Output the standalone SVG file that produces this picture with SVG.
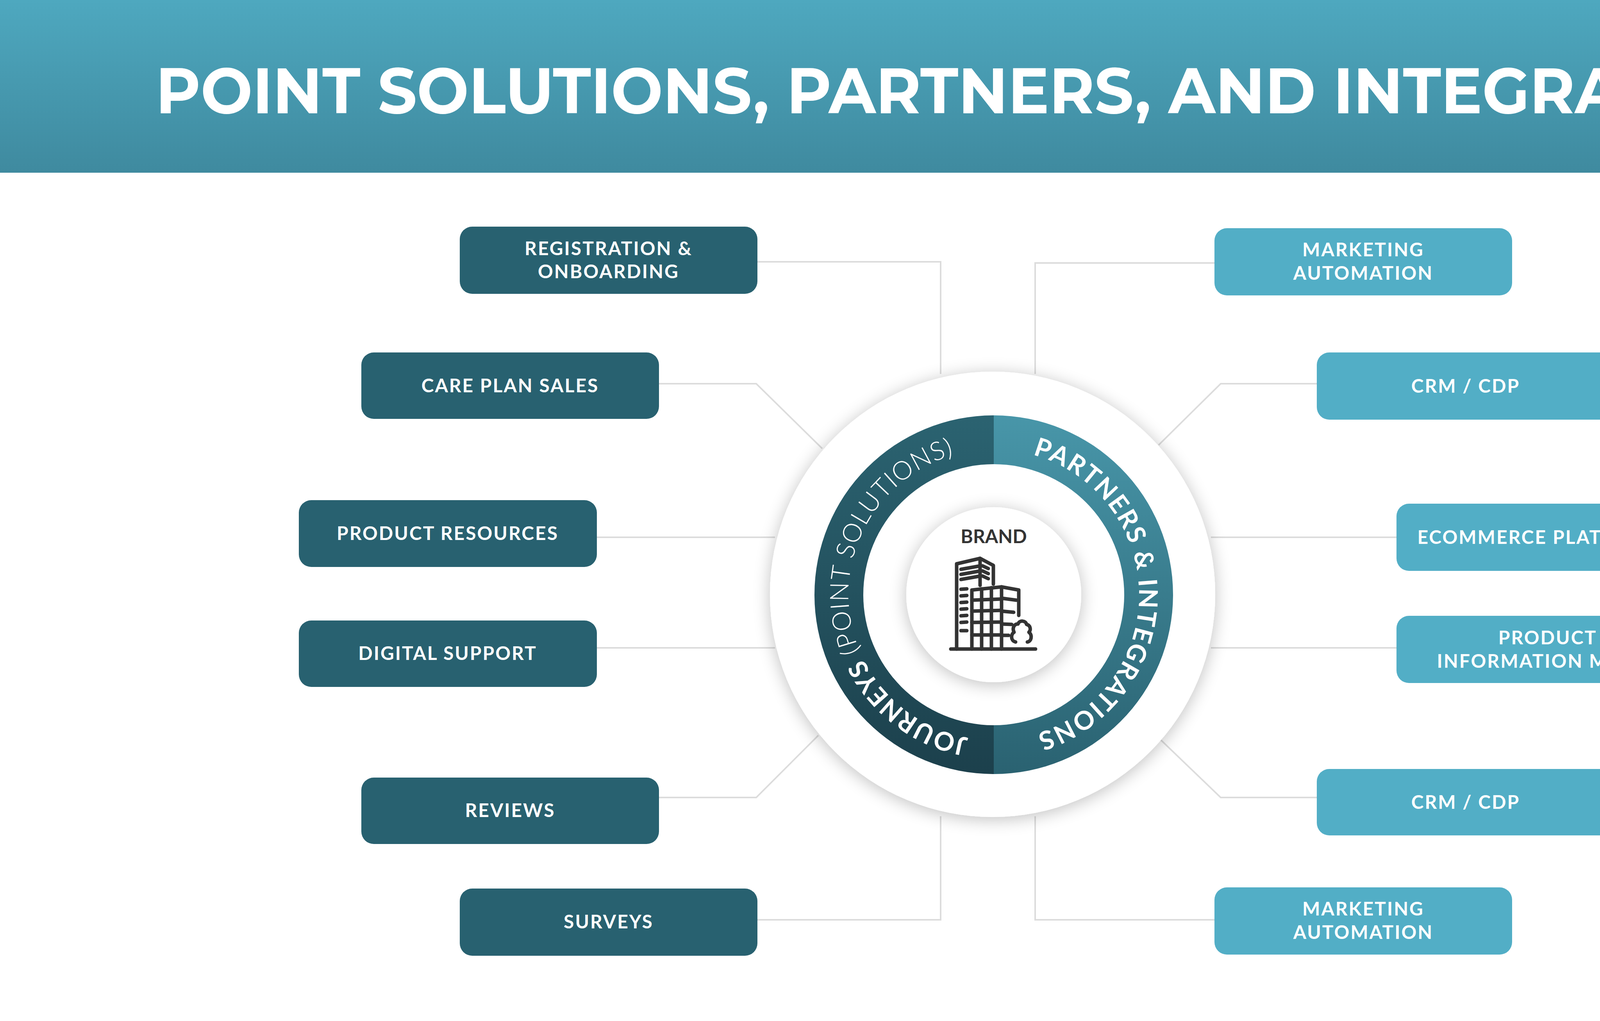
<svg xmlns="http://www.w3.org/2000/svg" width="5000" height="2613" viewBox="0 0 5000 2613">
<defs>
<linearGradient id="hdr" x1="0" y1="0" x2="0" y2="1"><stop offset="0" stop-color="#4EA8BF"/><stop offset="1" stop-color="#3F8A9F"/></linearGradient>
<linearGradient id="lring" x1="0" y1="0" x2="0" y2="1"><stop offset="0" stop-color="#2B6371"/><stop offset="1" stop-color="#1C404C"/></linearGradient>
<linearGradient id="rring" x1="0" y1="0" x2="0" y2="1"><stop offset="0" stop-color="#4896A9"/><stop offset="1" stop-color="#2A6271"/></linearGradient>
<filter id="sh" x="-20%" y="-20%" width="140%" height="140%"><feGaussianBlur in="SourceAlpha" stdDeviation="22"/><feOffset dy="6"/><feComponentTransfer><feFuncA type="linear" slope="0.25"/></feComponentTransfer><feMerge><feMergeNode/><feMergeNode in="SourceGraphic"/></feMerge></filter>
<path id="lpath" d="M 2544 1894 A 372 372 0 0 1 2544 1150"/>
<path id="rpath" d="M 2544 1150 A 372 372 0 0 1 2544 1894"/>
<style>
.bx text{font-family:"Lato","Liberation Sans",sans-serif;font-weight:700;font-size:48px;letter-spacing:3px;fill:#fff;text-anchor:middle}
.dk{fill:#286170}.lt{fill:#52AEC6}
.cn{fill:none;stroke:#DCDCDC;stroke-width:4}
.ic{fill:none;stroke:#333;stroke-width:9;stroke-linecap:round;stroke-linejoin:round}
.rt{font-family:Lato,"Liberation Sans",sans-serif;font-size:66px;fill:#fff}
</style>
</defs>
<rect width="5000" height="2613" fill="#fff"/>
<rect width="5000" height="442" fill="url(#hdr)"/>
<text x="2527" y="290" text-anchor="middle" textLength="4257" lengthAdjust="spacingAndGlyphs" font-family="Montserrat,'Liberation Sans',sans-serif" font-weight="700" font-size="165" fill="#fff">POINT SOLUTIONS, PARTNERS, AND INTEGRATIONS</text>
<g id="connectors" class="cn">
<polyline points="1939,670 2408,670 2408,957"/>
<polyline points="1687,982 1936,982 2105,1148"/>
<polyline points="1528,1375 1984,1375"/>
<polyline points="1528,1658 1984,1658"/>
<polyline points="1687,2041 1936,2041 2095,1882"/>
<polyline points="1939,2354 2408,2354 2408,2089"/>
<polyline points="3109,673 2650,673 2650,957"/>
<polyline points="3371,982 3125,982 2966,1139"/>
<polyline points="3575,1375 3100,1375"/>
<polyline points="3575,1658 3100,1658"/>
<polyline points="3371,2041 3125,2041 2972,1894"/>
<polyline points="3109,2354 2650,2354 2650,2089"/>
</g>
<g id="hub">
<circle cx="2541" cy="1521" r="570" fill="#fff" filter="url(#sh)"/>
<path d="M 2544 1063 A 459 459 0 0 0 2544 1981 Z" fill="url(#lring)"/>
<path d="M 2544 1063 A 459 459 0 0 1 2544 1981 Z" fill="url(#rring)"/>
<circle cx="2544" cy="1522" r="334" fill="#fff"/>
<text class="rt"><textPath href="#lpath" startOffset="65" textLength="1000" lengthAdjust="spacing"><tspan font-weight="700">JOURNEYS</tspan><tspan font-weight="300"> (POINT SOLUTIONS)</tspan></textPath></text>
<text class="rt" font-weight="700"><textPath href="#rpath" startOffset="101" textLength="955" lengthAdjust="spacing">PARTNERS &amp; INTEGRATIONS</textPath></text>
</g>
<g id="brand">
<circle cx="2544" cy="1522" r="224" fill="#fff" filter="url(#sh)"/>
<text x="2544" y="1390" text-anchor="middle" font-family="Lato,'Liberation Sans',sans-serif" font-weight="700" font-size="48" fill="#333">BRAND</text>
<g class="ic">
<line x1="2434" y1="1661" x2="2651" y2="1661"/>
<polyline points="2449,1661 2449,1443 2509,1429 2543,1447 2543,1495"/>
<line x1="2509" y1="1429" x2="2509" y2="1498"/>
<line x1="2460" y1="1457" x2="2505" y2="1449"/><line x1="2460" y1="1470" x2="2505" y2="1462"/><line x1="2460" y1="1483" x2="2505" y2="1475"/>
<line x1="2515" y1="1448" x2="2530" y2="1455"/><line x1="2515" y1="1461" x2="2530" y2="1468"/><line x1="2515" y1="1474" x2="2530" y2="1481"/>
<line x1="2460" y1="1508" x2="2475" y2="1507"/><line x1="2460" y1="1525" x2="2475" y2="1524"/><line x1="2460" y1="1542" x2="2475" y2="1541"/><line x1="2460" y1="1559" x2="2475" y2="1558"/><line x1="2460" y1="1576" x2="2475" y2="1575"/><line x1="2460" y1="1593" x2="2475" y2="1592"/><line x1="2460" y1="1614" x2="2475" y2="1614"/>
<polyline points="2488,1661 2488,1510 2564,1502 2608,1510 2608,1575"/>
<line x1="2564" y1="1502" x2="2564" y2="1661"/>
<line x1="2513" y1="1507" x2="2513" y2="1661"/><line x1="2538" y1="1504" x2="2538" y2="1661"/>
<line x1="2488" y1="1536" x2="2564" y2="1533"/><line x1="2488" y1="1564" x2="2564" y2="1562"/><line x1="2488" y1="1593" x2="2564" y2="1592"/><line x1="2488" y1="1625" x2="2564" y2="1625"/>
<line x1="2564" y1="1531" x2="2602" y2="1536"/><line x1="2564" y1="1564" x2="2595" y2="1567"/><line x1="2564" y1="1597" x2="2590" y2="1598"/><line x1="2564" y1="1626" x2="2582" y2="1626"/>
<path d="M2600 1643 C2586 1640 2588 1622 2596 1618 C2590 1606 2598 1596 2606 1597 C2610 1586 2626 1588 2628 1598 C2638 1600 2640 1612 2634 1618 C2644 1626 2640 1642 2630 1643"/>
</g>
</g>
<g id="n-registration" class="bx"><rect class="dk" x="1177" y="580" width="762" height="172" rx="32"/><text x="1558" y="653">REGISTRATION &amp;</text><text x="1558" y="712">ONBOARDING</text></g>
<g id="n-careplan" class="bx"><rect class="dk" x="925" y="902" width="762" height="170" rx="32"/><text x="1306" y="1004">CARE PLAN SALES</text></g>
<g id="n-productres" class="bx"><rect class="dk" x="765" y="1280" width="763" height="171" rx="32"/><text x="1146" y="1382">PRODUCT RESOURCES</text></g>
<g id="n-digital" class="bx"><rect class="dk" x="765" y="1588" width="763" height="170" rx="32"/><text x="1146" y="1689">DIGITAL SUPPORT</text></g>
<g id="n-reviews" class="bx"><rect class="dk" x="925" y="1990" width="762" height="170" rx="32"/><text x="1306" y="2091">REVIEWS</text></g>
<g id="n-surveys" class="bx"><rect class="dk" x="1177" y="2274" width="762" height="172" rx="32"/><text x="1558" y="2376">SURVEYS</text></g>
<g id="n-marketing1" class="bx"><rect class="lt" x="3109" y="584" width="762" height="172" rx="32"/><text x="3490" y="656">MARKETING</text><text x="3490" y="716">AUTOMATION</text></g>
<g id="n-crm1" class="bx"><rect class="lt" x="3371" y="902" width="762" height="172" rx="32"/><text x="3752" y="1005">CRM / CDP</text></g>
<g id="n-ecommerce" class="bx"><rect class="lt" x="3575" y="1289" width="762" height="172" rx="32"/><text x="3956" y="1392">ECOMMERCE PLATFORMS</text></g>
<g id="n-pim" class="bx"><rect class="lt" x="3575" y="1576" width="762" height="172" rx="32"/><text x="3962" y="1649">PRODUCT</text><text x="3962" y="1709">INFORMATION MGMT.</text></g>
<g id="n-crm2" class="bx"><rect class="lt" x="3371" y="1968" width="762" height="170" rx="32"/><text x="3752" y="2070">CRM / CDP</text></g>
<g id="n-marketing2" class="bx"><rect class="lt" x="3109" y="2271" width="762" height="172" rx="32"/><text x="3490" y="2343">MARKETING</text><text x="3490" y="2403">AUTOMATION</text></g>
</svg>
